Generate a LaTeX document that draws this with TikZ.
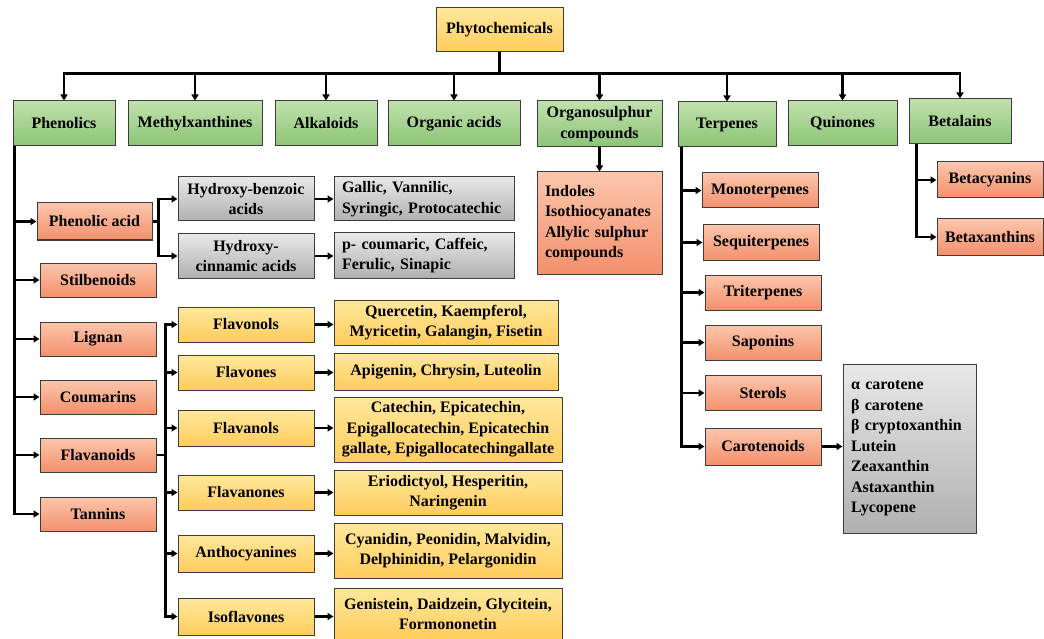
\documentclass[tikz,border=0pt]{standalone}
\usepackage{fontspec}
\setmainfont{Liberation Serif}
\usetikzlibrary{arrows.meta}
\definecolor{bord}{RGB}{60,60,60}
\definecolor{gtop}{RGB}{192,225,172}
\definecolor{gbot}{RGB}{140,196,118}
\definecolor{stop}{RGB}{252,198,172}
\definecolor{sbot}{RGB}{243,144,108}
\definecolor{ytop}{RGB}{255,232,156}
\definecolor{ybot}{RGB}{255,204,92}
\definecolor{atop}{RGB}{232,232,232}
\definecolor{abot}{RGB}{176,176,176}
\begin{document}
\begin{tikzpicture}[x=1pt,y=-1pt,
  every node/.style={font=\fontsize{16}{20.5}\selectfont\bfseries},
  box/.style={draw=bord, line width=1pt, inner sep=2pt, align=center},
  gbox/.style={box, top color=gtop, bottom color=gbot},
  sbox/.style={box, top color=stop, bottom color=sbot},
  ybox/.style={box, top color=ytop, bottom color=ybot},
  abox/.style={box, top color=atop, bottom color=abot},
  ln/.style={line width=2.4pt, black},
  arr/.style={ln, -{Triangle[length=6pt,width=7pt]}},
]
\useasboundingbox (0,0) rectangle (1044,639);

% root
\node[ybox, minimum width=127pt, minimum height=44pt] (phy) at (499.5,30) {Phytochemicals};

% level 1
\node[gbox, minimum width=102pt, minimum height=45pt] (phen) at (64,123.5) {Phenolics};
\node[gbox, minimum width=134pt, minimum height=45pt] (meth) at (195,123.5) {Methylxanthines};
\node[gbox, minimum width=102pt, minimum height=45pt] (alk) at (326,123.5) {Alkaloids};
\node[gbox, minimum width=132pt, minimum height=45pt] (org) at (454,123.5) {Organic acids};
\node[gbox, minimum width=125pt, minimum height=46pt] (osc) at (599.5,124) {Organosulphur\\compounds};
\node[gbox, minimum width=98pt, minimum height=45pt] (terp) at (727,124.5) {Terpenes};
\node[gbox, minimum width=109pt, minimum height=45pt] (quin) at (842.5,123.5) {Quinones};
\node[gbox, minimum width=102pt, minimum height=45pt] (beta) at (960,121.5) {Betalains};

% bus
\coordinate (bus) at (499.5,74);
\draw[ln] (phy.south) -- (phy.south |- bus);
\draw[line width=3pt] ([xshift=-1.2pt]phen.north |- bus) -- ([xshift=1.2pt]beta.north |- bus);
\foreach \n in {phen,meth,alk,org,osc,terp,quin,beta}
  \draw[arr] (\n.north |- bus) -- (\n.north);

% phenolics children
\node[sbox, minimum width=115pt, minimum height=37pt] (pa) at (94.5,221.5) {Phenolic acid};
\node[sbox, minimum width=116pt, minimum height=34pt] (stil) at (98,280) {Stilbenoids};
\node[sbox, minimum width=116pt, minimum height=34pt] (lig) at (98,339) {Lignan};
\node[sbox, minimum width=116pt, minimum height=34pt] (cou) at (98,397) {Coumarins};
\node[sbox, minimum width=116pt, minimum height=34pt] (fla) at (98,455) {Flavanoids};
\node[sbox, minimum width=116pt, minimum height=34pt] (tan) at (98,514) {Tannins};

\coordinate (pl) at ([xshift=2pt]phen.south west);
\draw[arr] (pl) |- (tan.west);
\foreach \n in {pa,stil,lig,cou,fla}
  \draw[arr] (pl |- \n.west) -- (\n.west);

% phenolic acid branch
\node[abox, minimum width=136pt, minimum height=44pt] (hb) at (246,199) {Hydroxy-benzoic\\acids};
\node[abox, minimum width=136pt, minimum height=44pt] (hc) at (246,256) {Hydroxy-\\cinnamic acids};
\node[abox, text width=164pt, inner xsep=8pt, align=left, minimum height=44pt] (gal) at (424,199) {Gallic, Vannilic,\\Syringic, Protocatechic};
\node[abox, text width=164pt, inner xsep=8pt, align=left, minimum height=45pt] (pco) at (424,255.5) {p- coumaric, Caffeic,\\Ferulic, Sinapic};

\coordinate (pab) at ([xshift=6pt]pa.east);
\draw[ln] (pa.east) -- (pab);
\draw[arr] (pab) |- (hb.west);
\draw[arr] (pab) |- (hc.west);
\draw[arr] (hb.east) -- (hb.east -| gal.west);
\draw[arr] (hc.east) -- (hc.east -| pco.west);

% organosulphur
\node[sbox, text width=109pt, inner xsep=8pt, align=left, minimum height=102pt] (ind) at (599.5,223) {Indoles\\Isothiocyanates\\Allylic sulphur\\compounds};
\draw[arr] (osc.south) -- (ind.north);

% flavanoids branch
\node[ybox, minimum width=136pt, minimum height=35pt] (fol) at (246,324.5) {Flavonols};
\node[ybox, minimum width=136pt, minimum height=35pt] (fon) at (246,372.5) {Flavones};
\node[ybox, minimum width=136pt, minimum height=36pt] (fan) at (246,428) {Flavanols};
\node[ybox, minimum width=136pt, minimum height=35pt] (fnn) at (246,492.5) {Flavanones};
\node[ybox, minimum width=136pt, minimum height=37pt] (ant) at (246,553.5) {Anthocyanines};
\node[ybox, minimum width=136pt, minimum height=37pt] (iso) at (246,616.5) {Isoflavones};

\node[ybox, minimum width=224pt, minimum height=45pt] (que) at (446,322.5) {Quercetin, Kaempferol,\\Myricetin, Galangin, Fisetin};
\node[ybox, minimum width=224pt, minimum height=37pt] (api) at (446,371.5) {Apigenin, Chrysin, Luteolin};
\node[ybox, minimum width=228pt, minimum height=65pt] (cat) at (448,429.5) {Catechin, Epicatechin,\\Epigallocatechin, Epicatechin\\gallate, Epigallocatechingallate};
\node[ybox, minimum width=228pt, minimum height=45pt] (eri) at (448,492.5) {Eriodictyol, Hesperitin,\\Naringenin};
\node[ybox, minimum width=228pt, minimum height=55pt] (cya) at (448,550.5) {Cyanidin, Peonidin, Malvidin,\\Delphinidin, Pelargonidin};
\node[ybox, minimum width=228pt, minimum height=52pt] (gen) at (448,614) {Genistein, Daidzein, Glycitein,\\Formononetin};

\coordinate (fb) at ([xshift=9pt]fla.east);
\draw[ln] (fla.east) -- (fb);
\draw[arr] (fb) |- (fol.west);
\draw[arr] (fb) |- (iso.west);
\foreach \n in {fon,fan,fnn,ant}
  \draw[arr] (fb |- \n.west) -- (\n.west);
\draw[arr] (fol.east) -- (fol.east -| que.west);
\draw[arr] (fon.east) -- (fon.east -| api.west);
\draw[arr] (fan.east) -- (fan.east -| cat.west);
\draw[arr] (fnn.east) -- (fnn.east -| eri.west);
\draw[arr] (ant.east) -- (ant.east -| cya.west);
\draw[arr] (iso.east) -- (iso.east -| gen.west);

% terpenes children
\node[sbox, minimum width=116pt, minimum height=35pt] (mono) at (760,190.5) {Monoterpenes};
\node[sbox, minimum width=116pt, minimum height=35pt] (sesq) at (761,242.5) {Sequiterpenes};
\node[sbox, minimum width=116pt, minimum height=35pt] (tri) at (763,292.5) {Triterpenes};
\node[sbox, minimum width=116pt, minimum height=35pt] (sap) at (763,342.5) {Saponins};
\node[sbox, minimum width=116pt, minimum height=35pt] (ster) at (763,393) {Sterols};
\node[sbox, minimum width=116pt, minimum height=37pt] (caro) at (763,446.5) {Carotenoids};
\node[abox, text width=117pt, inner xsep=8pt, align=left, minimum height=169pt] (cl) at (909.5,448.5)
  {α carotene\\β carotene\\β cryptoxanthin\\Lutein\\Zeaxanthin\\Astaxanthin\\Lycopene};

\coordinate (tl) at ([xshift=4pt]terp.south west);
\draw[arr] (tl) |- (caro.west);
\foreach \n in {mono,sesq,tri,sap,ster}
  \draw[arr] (tl |- \n.west) -- (\n.west);
\draw[arr] (caro.east) -- (caro.east -| cl.west);

% betalains children
\node[sbox, minimum width=106pt, minimum height=36pt] (bcy) at (990,180) {Betacyanins};
\node[sbox, minimum width=106pt, minimum height=36pt] (bxa) at (990,237) {Betaxanthins};
\coordinate (bl) at ([xshift=8pt]beta.south west);
\draw[arr] (bl) |- (bxa.west);
\draw[arr] (bl |- bcy.west) -- (bcy.west);
\end{tikzpicture}
\end{document}
